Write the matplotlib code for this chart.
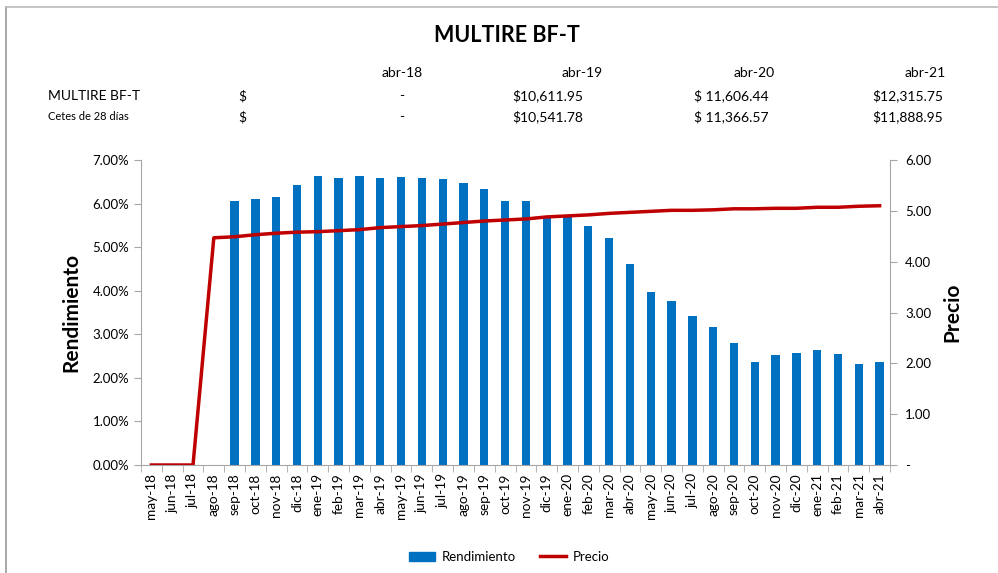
import numpy as np
import matplotlib
matplotlib.use("Agg")
import matplotlib.pyplot as plt
from matplotlib.lines import Line2D
from matplotlib.patches import Patch
from matplotlib.ticker import FuncFormatter, MultipleLocator, FixedLocator

plt.rcParams['font.family'] = ['Lato', 'DejaVu Sans']

meses = ["may-18", "jun-18", "jul-18", "ago-18", "sep-18", "oct-18", "nov-18", "dic-18",
         "ene-19", "feb-19", "mar-19", "abr-19", "may-19", "jun-19", "jul-19", "ago-19",
         "sep-19", "oct-19", "nov-19", "dic-19", "ene-20", "feb-20", "mar-20", "abr-20",
         "may-20", "jun-20", "jul-20", "ago-20", "sep-20", "oct-20", "nov-20", "dic-20",
         "ene-21", "feb-21", "mar-21", "abr-21"]

# rendimiento en %
rendimiento = [0, 0, 0, 0, 6.07, 6.10, 6.14, 6.42,
               6.63, 6.59, 6.63, 6.59, 6.61, 6.59, 6.56, 6.47,
               6.33, 6.07, 6.07, 5.72, 5.69, 5.48, 5.20, 4.61,
               3.97, 3.76, 3.41, 3.16, 2.79, 2.37, 2.52, 2.57,
               2.64, 2.55, 2.32, 2.37]

precio = [0, 0, 0, 4.47, 4.49, 4.53, 4.56, 4.58,
          4.59, 4.61, 4.63, 4.67, 4.69, 4.71, 4.74, 4.77,
          4.80, 4.82, 4.84, 4.88, 4.90, 4.92, 4.95, 4.97,
          4.99, 5.01, 5.01, 5.02, 5.04, 5.04, 5.05, 5.05,
          5.07, 5.07, 5.09, 5.10]

tabla_cols = ["abr-18", "abr-19", "abr-20", "abr-21"]
fila_multire = ["-", "$10,611.95", "$ 11,606.44", "$12,315.75"]
fila_cetes = ["-", "$10,541.78", "$ 11,366.57", "$11,888.95"]

azul = "#0070C0"
rojo = "#C00000"
gris = "#A6A6A6"
W, H = 998, 573

fig = plt.figure(figsize=(W / 100, H / 100), dpi=100)

# marco
fig.add_artist(Line2D([6 / W, 6 / W], [0, 1 - 7 / H], color="#999999", lw=1.2))
fig.add_artist(Line2D([6 / W, 1], [1 - 7 / H, 1 - 7 / H], color="#BBBBBB", lw=1.2))

fig.text(507 / W, 1 - 35 / H, "MULTIRE BF-T", ha="center", va="center",
         fontsize=15.5, fontweight="bold")

# tabla de arriba
col_x = [423, 603, 775, 946]
val_x = [402, 583, 769, 943]
for cx, t in zip(col_x, tabla_cols):
    fig.text(cx / W, 1 - 73 / H, t, ha="right", va="center", fontsize=10)
fig.text(48 / W, 1 - 96 / H, "MULTIRE BF-T", ha="left", va="center", fontsize=10)
fig.text(48 / W, 1 - 117 / H, "Cetes de 28 días", ha="left", va="center", fontsize=8)
for y in (96, 117):
    fig.text(242 / W, 1 - y / H, "$", ha="center", va="center", fontsize=10)
for i, (a, b) in enumerate(zip(fila_multire, fila_cetes)):
    ha = "center" if i == 0 else "right"
    fig.text(val_x[i] / W, 1 - 96 / H, a, ha=ha, va="center", fontsize=10)
    fig.text(val_x[i] / W, 1 - 117 / H, b, ha=ha, va="center", fontsize=10)

ax = fig.add_axes([141 / W, 1 - 465 / H, (890 - 141) / W, (465 - 160) / H])
x = np.arange(len(meses))
ax.bar(x, rendimiento, width=0.4, color=azul, zorder=2)
ax.set_xlim(-0.5, len(meses) - 0.5)
ax.set_ylim(0, 7)
ax.yaxis.set_major_locator(MultipleLocator(1))
ax.yaxis.set_major_formatter(FuncFormatter(lambda v, p: f"{v:.2f}%"))
ax.set_xticks(x)
ax.set_xticklabels(meses, rotation=90, fontsize=9.8)
ax.tick_params(axis="x", length=0, pad=6)
ax.xaxis.set_minor_locator(FixedLocator(np.arange(-0.5, len(meses), 1)))
ax.tick_params(axis="x", which="minor", length=5, color=gris)
ax.tick_params(axis="y", labelsize=9.5, length=5, color=gris)
ax.set_ylabel("Rendimiento", fontsize=15, fontweight="bold", labelpad=8)
for s in ("top", "right"):
    ax.spines[s].set_visible(False)
for s in ("left", "bottom"):
    ax.spines[s].set_color(gris)

ax2 = ax.twinx()
ax2.plot(x, precio, color=rojo, lw=2.5, zorder=3)
ax2.set_ylim(0, 6)
ax2.yaxis.set_major_locator(MultipleLocator(1))
ax2.yaxis.set_major_formatter(FuncFormatter(lambda v, p: "-" if v == 0 else f"{v:.2f}"))
ax2.tick_params(axis="y", labelsize=9.5, length=5, color=gris, pad=6)
ax2.set_ylabel("Precio", fontsize=15, fontweight="bold", labelpad=8)
for s in ("top", "left", "bottom"):
    ax2.spines[s].set_visible(False)
ax2.spines["right"].set_color(gris)

handles = [Patch(color=azul, label="Rendimiento"),
           Line2D([0], [0], color=rojo, lw=2.5, label="Precio")]
fig.legend(handles=handles, loc="center", bbox_to_anchor=(509 / W, 1 - 557 / H),
           ncol=2, frameon=False, fontsize=9.5, handlelength=2.0,
           handletextpad=0.5, columnspacing=1.8)

fig.savefig("out.png", dpi=100)
